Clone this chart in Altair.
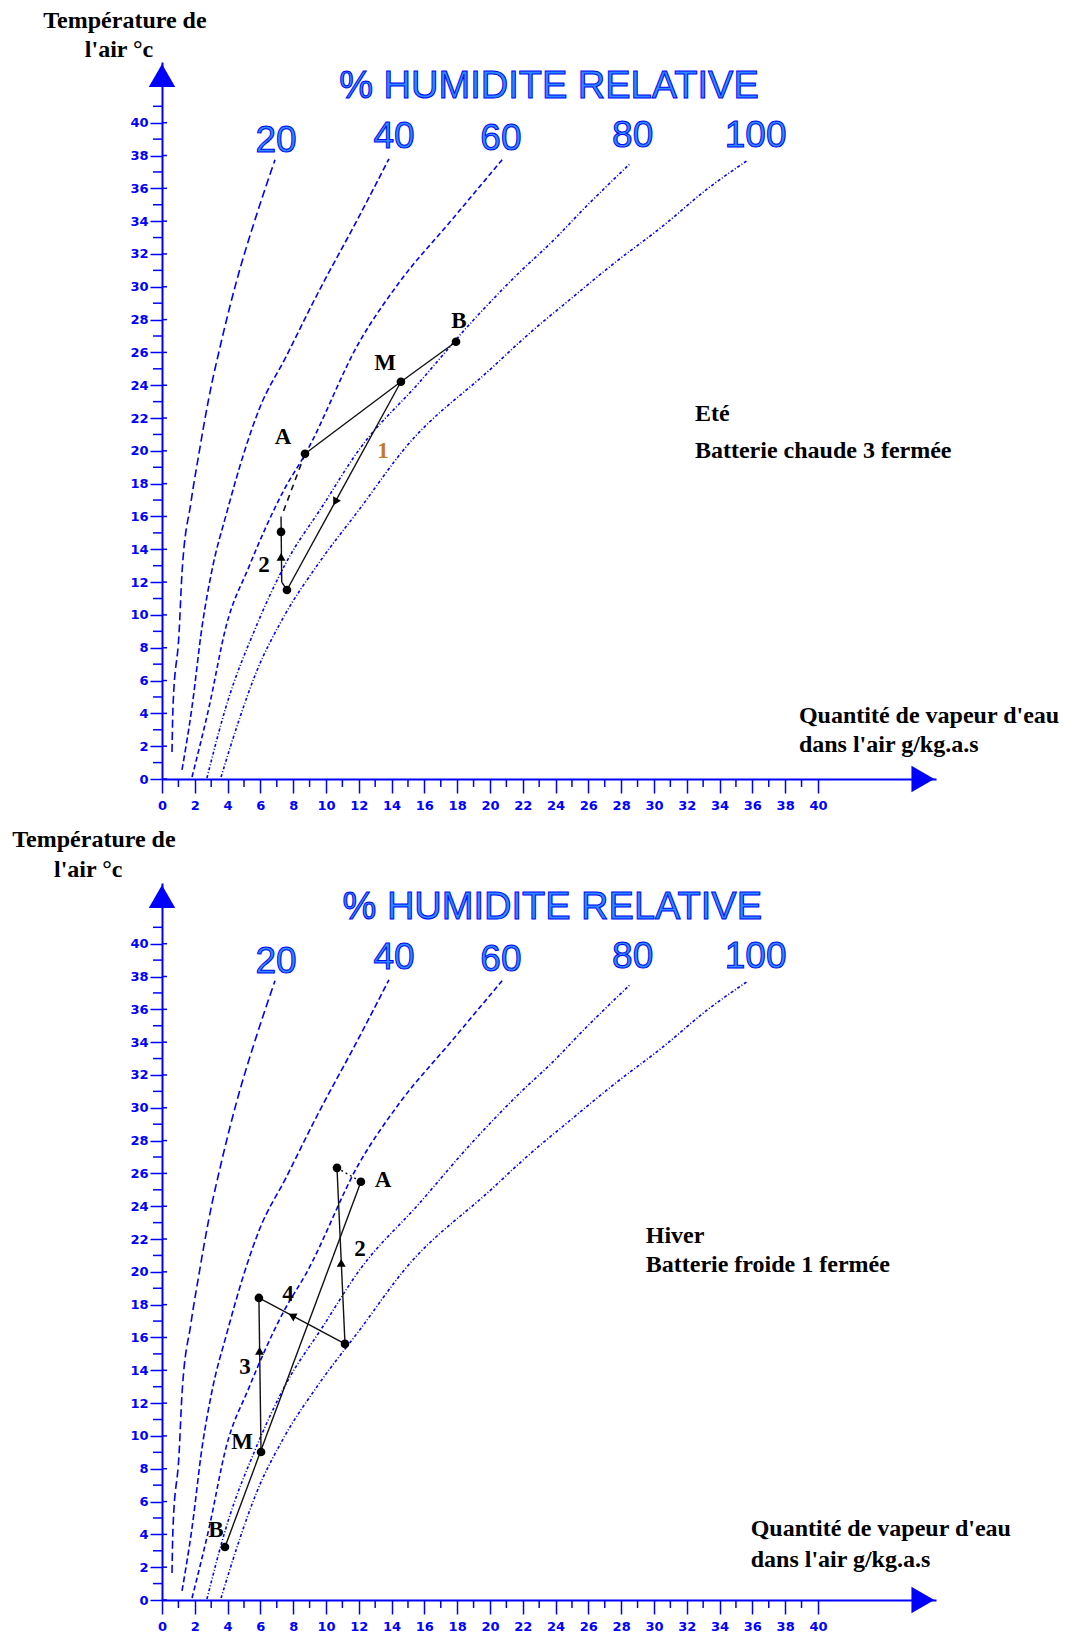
import altair as alt
import pandas as pd

# ---------------- data ----------------
RH_NAMES = ["20", "40", "60", "80", "100"]
rh20_w = [0.61, 0.67, 1.04, 1.22, 1.77, 2.26, 2.87, 3.60, 4.57, 5.73, 6.89]
rh20_t = [1.65, 4.39, 8.90, 12.56, 16.89, 19.88, 23.29, 26.59, 30.43, 34.27, 37.74]
rh40_w = [1.22, 1.83, 2.44, 3.05, 3.96, 5.00, 5.91, 7.56, 9.39, 12.01, 13.84]
rh40_t = [0.55, 4.39, 9.27, 12.74, 16.28, 19.88, 22.50, 25.73, 29.39, 34.27, 37.80]
rh60_w = [1.83, 2.87, 3.90, 5.30, 7.44, 8.78, 12.01, 14.45, 17.68, 20.85]
rh60_t = [0.12, 4.39, 9.27, 12.93, 17.62, 19.88, 26.59, 30.24, 34.09, 37.87]
rh80_w = [2.74, 3.90, 5.73, 7.56, 9.76, 12.01, 15.67, 18.90, 21.77, 23.78, 25.85, 28.54]
rh80_t = [0.06, 4.39, 9.27, 13.17, 16.59, 20.06, 24.15, 27.87, 30.85, 32.74, 34.88, 37.50]
rh100_w = [3.60, 4.70, 5.73, 7.32, 9.57, 12.01, 14.88, 20.12, 21.77, 22.80, 24.63, 27.68, 30.49, 33.35, 35.67]
rh100_t = [0.12, 3.60, 6.46, 9.70, 13.17, 16.40, 20.24, 25.06, 26.59, 27.50, 29.02, 31.52, 33.66, 36.04, 37.68]

rh_label_w = [6.95, 14.15, 20.67, 28.7, 36.2]
rh_label_t = [38.9, 39.15, 39.0, 39.2, 39.2]

x_ticks = list(range(0, 41, 2))
x_minor = list(range(1, 40, 2))
y_ticks = list(range(0, 41, 2))
y_minor = list(range(1, 42, 2))

# Summer panel (Eté)
top_pt_name = ["A", "M", "B", "P1", "P2"]
top_pt_w = [8.72, 14.57, 17.93, 7.62, 7.26]
top_pt_t = [19.82, 24.21, 26.65, 11.52, 15.06]
top_seg_w1 = [8.72, 14.57, 14.57, 7.26, 7.30, 8.72]
top_seg_t1 = [19.82, 24.21, 24.21, 16.00, 12.00, 19.82]
top_seg_w2 = [14.57, 17.93, 7.62, 7.30, 7.62, 7.40]
top_seg_t2 = [24.21, 26.65, 11.52, 12.00, 11.52, 16.30]
top_seg_style = ["solid", "solid", "solid", "solid", "solid", "dash"]
top_arrow_w = [10.56, 7.26]
top_arrow_t = [16.89, 13.54]
top_arrow_angle = [209, 0]
top_lab = ["A", "M", "B", "2"]
top_lab_w = [7.38, 13.6, 18.1, 6.22]
top_lab_t = [20.85, 25.37, 27.93, 13.05]
top_orange = ["1"]
top_orange_w = [13.48]
top_orange_t = [20.0]
top_ctext = ["Température de", "l'air °c"]
top_ctext_w = [-2.26, -2.62]
top_ctext_t = [46.2, 44.45]
top_ltext = ["Quantité de vapeur d'eau", "dans l'air g/kg.a.s", "Eté", "Batterie chaude 3 fermée"]
top_ltext_w = [38.84, 38.84, 32.5, 32.5]
top_ltext_t = [3.84, 2.07, 22.26, 20.0]

# Winter panel (Hiver)
bot_pt_name = ["T", "A", "P15", "P18", "M", "B"]
bot_pt_w = [10.67, 12.13, 11.16, 5.91, 6.04, 3.84]
bot_pt_t = [26.34, 25.49, 15.61, 18.41, 9.02, 3.23]
bot_seg_w1 = [10.67, 10.67, 11.16, 5.91, 12.13]
bot_seg_t1 = [26.34, 26.34, 15.61, 18.41, 25.49]
bot_seg_w2 = [12.13, 11.16, 5.91, 6.04, 3.84]
bot_seg_t2 = [25.49, 15.61, 18.41, 9.02, 3.23]
bot_seg_style = ["dot", "solid", "solid", "solid", "solid"]
bot_arrow_w = [10.93, 7.93, 5.95]
bot_arrow_t = [20.55, 17.33, 15.18]
bot_arrow_angle = [0, 298, 0]
bot_lab = ["A", "2", "4", "3", "M", "B"]
bot_lab_w = [13.48, 12.07, 7.68, 5.06, 4.88, 3.29]
bot_lab_t = [25.6, 21.4, 18.66, 14.2, 9.63, 4.27]
bot_ctext = ["Température de", "l'air °c"]
bot_ctext_w = [-4.15, -4.5]
bot_ctext_t = [46.3, 44.5]
bot_ltext = ["Quantité de vapeur d'eau", "dans l'air g/kg.a.s", "Hiver", "Batterie froide 1 fermée"]
bot_ltext_w = [35.9, 35.9, 29.5, 29.5]
bot_ltext_t = [4.33, 2.44, 22.2, 20.4]

# ---------------- styling ----------------
BLUE = "#0000ff"
W_PX = 774
H_PX = 717
XD = [0, 47.2]
YD = [0, 43.7]
SERIF = "Liberation Serif"

xscale = alt.Scale(domain=XD, nice=False, zero=False)
yscale = alt.Scale(domain=YD, nice=False, zero=False)
xaxis = alt.Axis(values=x_ticks, title=None, grid=False, domainColor=BLUE, domainWidth=2,
                 tickColor=BLUE, tickWidth=1.5, tickSize=14, labelColor=BLUE,
                 labelFont="DejaVu Sans", labelFontWeight="bold", labelFontSize=13,
                 labelPadding=6, labelFlush=False, labelOverlap=False)
yaxis = alt.Axis(values=y_ticks, title=None, grid=False, domainColor=BLUE, domainWidth=2,
                 tickColor=BLUE, tickWidth=1.5, tickSize=12, labelColor=BLUE,
                 labelFont="DejaVu Sans", labelFontWeight="bold", labelFontSize=13,
                 labelPadding=2, labelFlush=False, labelOverlap=False)


def X(f="w"):
    return alt.X(f"{f}:Q", scale=xscale, axis=xaxis)


def Y(f="t"):
    return alt.Y(f"{f}:Q", scale=yscale, axis=yaxis)


rows = []
for name, ws, ts in zip(RH_NAMES, [rh20_w, rh40_w, rh60_w, rh80_w, rh100_w],
                        [rh20_t, rh40_t, rh60_t, rh80_t, rh100_t]):
    for k, (w, t) in enumerate(zip(ws, ts)):
        rows.append({"rh": name, "k": k, "w": w, "t": t})
curves_df = pd.DataFrame(rows)
rhlab_df = pd.DataFrame({"label": RH_NAMES, "w": rh_label_w, "t": rh_label_t})


def panel(pt_w, pt_t, seg, arrows, labs, orange, ctext, ltext, title_w):
    curves = alt.Chart(curves_df).mark_line(color=BLUE, strokeWidth=1.6, interpolate="monotone").encode(
        x=X(), y=Y(), detail="rh:N", order="k:Q",
        strokeDash=alt.StrokeDash("rh:N", scale=alt.Scale(domain=RH_NAMES,
                                  range=[[8, 4], [6, 3], [5, 3], [3, 2, 1, 2], [3, 2, 1, 2]]), legend=None))
    ymin = alt.Chart(pd.DataFrame({"t": y_minor})).mark_rule(color=BLUE, strokeWidth=1.5).encode(
        y=Y(), x=alt.value(-9), x2=alt.value(0))
    ymaj = alt.Chart(pd.DataFrame({"t": y_ticks})).mark_rule(color=BLUE, strokeWidth=1.5).encode(
        y=Y(), x=alt.value(0), x2=alt.value(5))
    xmin = alt.Chart(pd.DataFrame({"w": x_minor})).mark_rule(color=BLUE, strokeWidth=1.5).encode(
        x=X(), y=alt.value(H_PX), y2=alt.value(H_PX + 8))
    arrow_df = pd.DataFrame({"w": [0, 46.4], "t": [42.88, 0], "shape": ["triangle-up", "triangle-right"]})
    axis_arrows = alt.Chart(arrow_df).mark_point(filled=True, opacity=1, color=BLUE, size=700, strokeWidth=0).encode(
        x=X(), y=Y(), shape=alt.Shape("shape:N", scale=None))
    seg_df = pd.DataFrame({"w": seg[0], "t": seg[1], "w2": seg[2], "t2": seg[3], "style": seg[4]})
    solid = alt.Chart(seg_df[seg_df["style"] == "solid"]).mark_rule(color="#111111", strokeWidth=1.4).encode(
        x=X(), y=Y(), x2="w2:Q", y2="t2:Q")
    layers = [curves, ymin, ymaj, xmin, axis_arrows, solid]
    if (seg_df["style"] == "dash").any():
        layers.append(alt.Chart(seg_df[seg_df["style"] == "dash"]).mark_rule(
            color="#111111", strokeWidth=1.6, strokeDash=[6, 5]).encode(x=X(), y=Y(), x2="w2:Q", y2="t2:Q"))
    if (seg_df["style"] == "dot").any():
        layers.append(alt.Chart(seg_df[seg_df["style"] == "dot"]).mark_rule(
            color="#111111", strokeWidth=1.4, strokeDash=[2, 3]).encode(x=X(), y=Y(), x2="w2:Q", y2="t2:Q"))
    dots = alt.Chart(pd.DataFrame({"w": pt_w, "t": pt_t})).mark_circle(color="black", opacity=1, size=75).encode(
        x=X(), y=Y())
    heads = alt.Chart(pd.DataFrame({"w": arrows[0], "t": arrows[1], "a": arrows[2]})).mark_point(
        shape="triangle-up", filled=True, opacity=1, color="black", size=80, strokeWidth=0).encode(
        x=X(), y=Y(), angle=alt.Angle("a:Q", scale=None))
    labt = alt.Chart(pd.DataFrame({"label": labs[0], "w": labs[1], "t": labs[2]})).mark_text(
        font=SERIF, fontWeight="bold", fontSize=23, color="black", baseline="middle").encode(
        x=X(), y=Y(), text="label:N")
    layers += [dots, heads, labt]
    if orange:
        layers.append(alt.Chart(pd.DataFrame({"label": orange[0], "w": orange[1], "t": orange[2]})).mark_text(
            font=SERIF, fontWeight="bold", fontSize=23, color="#c07a2a", baseline="middle").encode(
            x=X(), y=Y(), text="label:N"))
    ct = alt.Chart(pd.DataFrame({"label": ctext[0], "w": ctext[1], "t": ctext[2]})).mark_text(
        font=SERIF, fontWeight="bold", fontSize=24, color="black", baseline="middle", align="center").encode(
        x=X(), y=Y(), text="label:N")
    lt = alt.Chart(pd.DataFrame({"label": ltext[0], "w": ltext[1], "t": ltext[2]})).mark_text(
        font=SERIF, fontWeight="bold", fontSize=24, color="black", baseline="middle", align="left").encode(
        x=X(), y=Y(), text="label:N")
    rhl = alt.Chart(rhlab_df).mark_text(font="Liberation Sans", fontSize=37, color="#2a8cff",
                                        stroke=BLUE, strokeWidth=1, baseline="middle", align="center").encode(
        x=X(), y=Y(), text="label:N")
    ttl = alt.Chart(pd.DataFrame({"label": ["% HUMIDITE RELATIVE"], "w": [title_w], "t": [42.2]})).mark_text(
        font="Liberation Sans", fontSize=38, color="#2a8cff", stroke=BLUE, strokeWidth=1,
        baseline="middle", align="center").encode(x=X(), y=Y(), text="label:N")
    layers += [ct, lt, rhl, ttl]
    return alt.layer(*layers).properties(width=W_PX, height=H_PX)


top = panel(top_pt_w, top_pt_t,
            (top_seg_w1, top_seg_t1, top_seg_w2, top_seg_t2, top_seg_style),
            (top_arrow_w, top_arrow_t, top_arrow_angle),
            (top_lab, top_lab_w, top_lab_t),
            (top_orange, top_orange_w, top_orange_t),
            (top_ctext, top_ctext_w, top_ctext_t),
            (top_ltext, top_ltext_w, top_ltext_t), 23.6)
bottom = panel(bot_pt_w, bot_pt_t,
               (bot_seg_w1, bot_seg_t1, bot_seg_w2, bot_seg_t2, bot_seg_style),
               (bot_arrow_w, bot_arrow_t, bot_arrow_angle),
               (bot_lab, bot_lab_w, bot_lab_t),
               None,
               (bot_ctext, bot_ctext_w, bot_ctext_t),
               (bot_ltext, bot_ltext_w, bot_ltext_t), 23.8)

chart = alt.vconcat(top, bottom, spacing=104, bounds="flush").configure_view(stroke=None).properties(
    padding={"left": 4, "top": 0, "right": 5, "bottom": 5})

chart.save("out.html", embed_options={"renderer": "svg", "actions": False})
